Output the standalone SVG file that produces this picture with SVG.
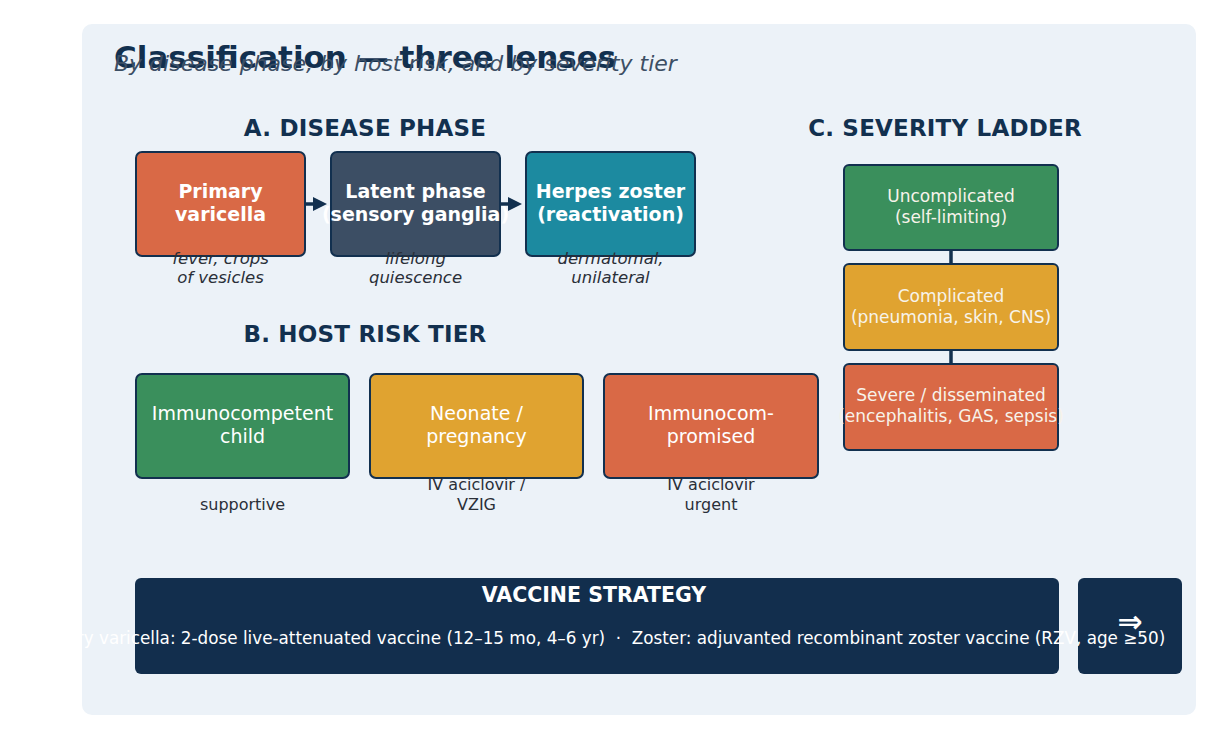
<svg xmlns="http://www.w3.org/2000/svg" width="1219" height="738" viewBox="0 0 1219 738">
<defs>
<style>
text{font-family:"DejaVu Sans","Liberation Sans",sans-serif}
.ttl{font-size:31px;font-weight:bold;fill:#12304F}
.sub{font-size:22px;font-style:italic;fill:#3C4E64}
.hdr{font-size:23px;font-weight:bold;fill:#12304F;text-anchor:middle;letter-spacing:0.2px}
.box{stroke:#12304F;stroke-width:2}
.bt{font-size:19px;font-weight:bold;fill:#fff;text-anchor:middle}
.nt{font-size:19px;fill:#fff;text-anchor:middle}
.st{font-size:17px;fill:#F7F3EA;text-anchor:middle}
.cap{font-size:16.5px;font-style:italic;fill:#2A2F38;text-anchor:middle}
.cap2{font-size:16px;fill:#2A2F38;text-anchor:middle}
.orange{fill:#D96946}.slate{fill:#3C4E64}.teal{fill:#1C8AA0}.green{fill:#3A8F5C}.yellow{fill:#E0A330}
.conn{stroke:#12304F;stroke-width:3.5;fill:none}
.head{fill:#12304F}
</style>
</defs>
<rect width="1219" height="738" fill="#ffffff"/>
<rect x="82" y="24" width="1114" height="691" rx="10" fill="#ECF2F8"/>
<text class="ttl" x="114" y="68">Classification — three lenses</text>
<text class="sub" x="114" y="71">By disease phase, by host risk, and by severity tier</text>

<text class="hdr" x="365" y="136">A. DISEASE PHASE</text>
<text class="hdr" x="365" y="342">B. HOST RISK TIER</text>
<text class="hdr" x="945" y="136">C. SEVERITY LADDER</text>

<g id="connectors">
<line class="conn" x1="306" y1="204" x2="315" y2="204"/>
<polygon class="head" points="313,197 327,204 313,211"/>
<line class="conn" x1="501" y1="204" x2="510" y2="204"/>
<polygon class="head" points="508,197 522,204 508,211"/>
<line class="conn" x1="951" y1="251" x2="951" y2="264"/>
<line class="conn" x1="951" y1="351" x2="951" y2="364"/>
</g>

<g id="primary">
<rect class="box orange" x="136" y="152" width="169" height="104" rx="6"/>
<text class="bt" x="220.5" y="198">Primary</text>
<text class="bt" x="220.5" y="221">varicella</text>
<text class="cap" x="220.5" y="264">fever, crops</text>
<text class="cap" x="220.5" y="283">of vesicles</text>
</g>
<g id="latent">
<rect class="box slate" x="331" y="152" width="169" height="104" rx="6"/>
<text class="bt" x="415.5" y="198">Latent phase</text>
<text class="bt" x="415.5" y="221">(sensory ganglia)</text>
<text class="cap" x="415.5" y="264">lifelong</text>
<text class="cap" x="415.5" y="283">quiescence</text>
</g>
<g id="zoster">
<rect class="box teal" x="526" y="152" width="169" height="104" rx="6"/>
<text class="bt" x="610.5" y="198">Herpes zoster</text>
<text class="bt" x="610.5" y="221">(reactivation)</text>
<text class="cap" x="610.5" y="264">dermatomal,</text>
<text class="cap" x="610.5" y="283">unilateral</text>
</g>

<g id="immunocompetent">
<rect class="box green" x="136" y="374" width="213" height="104" rx="6"/>
<text class="nt" x="242.5" y="420">Immunocompetent</text>
<text class="nt" x="242.5" y="443">child</text>
<text class="cap2" x="242.5" y="510">supportive</text>
</g>
<g id="neonate">
<rect class="box yellow" x="370" y="374" width="213" height="104" rx="6"/>
<text class="nt" x="476.5" y="420">Neonate /</text>
<text class="nt" x="476.5" y="443">pregnancy</text>
<text class="cap2" x="476.5" y="490">IV aciclovir /</text>
<text class="cap2" x="476.5" y="510">VZIG</text>
</g>
<g id="immunocompromised">
<rect class="box orange" x="604" y="374" width="214" height="104" rx="6"/>
<text class="nt" x="711" y="420">Immunocom-</text>
<text class="nt" x="711" y="443">promised</text>
<text class="cap2" x="711" y="490">IV aciclovir</text>
<text class="cap2" x="711" y="510">urgent</text>
</g>

<g id="uncomplicated">
<rect class="box green" x="844" y="165" width="214" height="85" rx="5"/>
<text class="st" x="951" y="202">Uncomplicated</text>
<text class="st" x="951" y="223">(self-limiting)</text>
</g>
<g id="complicated">
<rect class="box yellow" x="844" y="264" width="214" height="86" rx="5"/>
<text class="st" x="951" y="302">Complicated</text>
<text class="st" x="951" y="323">(pneumonia, skin, CNS)</text>
</g>
<g id="severe">
<rect class="box orange" x="844" y="364" width="214" height="86" rx="5"/>
<text class="st" x="951" y="401">Severe / disseminated</text>
<text class="st" x="951" y="422">(encephalitis, GAS, sepsis)</text>
</g>

<g id="next">
<rect x="1078" y="578" width="104" height="96" rx="6" fill="#122E4D"/>
<text x="1130" y="632" font-size="30" font-weight="bold" fill="#fff" text-anchor="middle">⇒</text>
</g>
<g id="vaccine">
<rect x="135" y="578" width="924" height="96" rx="6" fill="#122E4D"/>
<text x="594" y="602" font-size="20.5" font-weight="bold" fill="#fff" text-anchor="middle">VACCINE STRATEGY</text>
<text x="597" y="644" font-size="16.8" fill="#fff" text-anchor="middle" xml:space="preserve">Primary varicella: 2-dose live-attenuated vaccine (12–15 mo, 4–6 yr)  ·  Zoster: adjuvanted recombinant zoster vaccine (RZV, age ≥50)</text>
</g>
</svg>
